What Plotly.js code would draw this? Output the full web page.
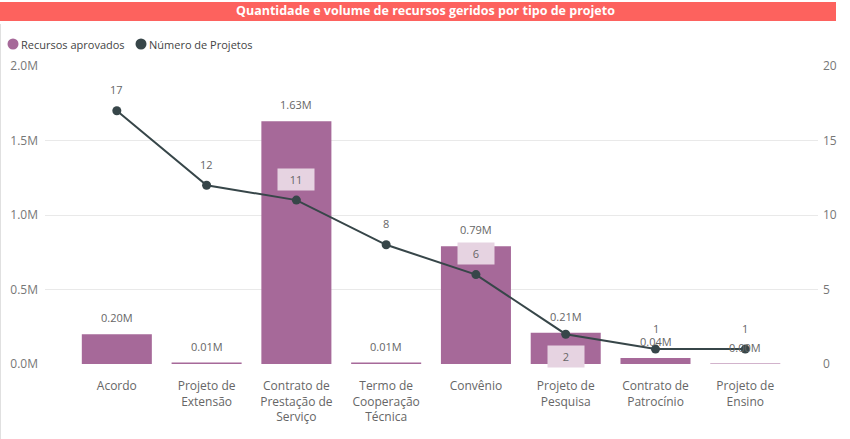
<!DOCTYPE html>
<html><head><meta charset="utf-8">
<script src="https://cdn.plot.ly/plotly-3.0.1.min.js"></script>
<style>html,body{margin:0;padding:0;background:#fff;}#chart{width:850px;height:439px;}</style>
</head><body><div id="chart"></div>
<script>
const categories = ["Acordo","Projeto de<br>Extensão","Contrato de<br>Prestação de<br>Serviço","Termo de<br>Cooperação<br>Técnica","Convênio","Projeto de<br>Pesquisa","Contrato de<br>Patrocínio","Projeto de<br>Ensino"];
const recursosM = [0.20, 0.01, 1.63, 0.01, 0.79, 0.21, 0.04, 0.003];
const numeroProjetos = [17, 12, 11, 8, 6, 2, 1, 1];
const leftTickVals = [0, 0.5, 1.0, 1.5, 2.0];
const leftTickText = ["0.0M","0.5M","1.0M","1.5M","2.0M"];
const rightTickVals = [0, 5, 10, 15, 20];
const seriesNames = ["Recursos aprovados", "Número de Projetos"];

const barColor = "#A66999";
const lineColor = "#374649";
const xs = categories.map((c, i) => i);
const labelFont = {family: "Open Sans, DejaVu Sans", size: 11, color: "#666"};

const traces = [
  {type: "bar", x: xs, y: recursosM, marker: {color: barColor}, width: 0.78,
   yaxis: "y", showlegend: false, hoverinfo: "none", name: seriesNames[0]},
  {type: "scatter", mode: "lines+markers", x: xs, y: numeroProjetos, yaxis: "y2",
   line: {color: lineColor, width: 2}, marker: {color: lineColor, size: 9},
   showlegend: false, hoverinfo: "none", name: seriesNames[1]}
];

const W = 773, H = 298; // plot area size in px
const px = v => v / W, py = v => v / H;

const annotations = [];
recursosM.forEach((v, i) => {
  annotations.push({x: i, y: v, xref: "x", yref: "y", text: v.toFixed(2) + "M",
    showarrow: false, yanchor: "bottom", yshift: 7, font: labelFont});
});
numeroProjetos.forEach((n, i) => {
  const yl = n / 10; // same scale on left axis
  const inside = yl < recursosM[i];
  const above = !inside || (yl + 0.17 < recursosM[i]);
  const a = {x: i, y: yl, xref: "x", yref: "y", text: String(n), showarrow: false,
    font: labelFont, yanchor: "middle", yshift: above ? 21 : -22};
  if (inside) { a.bgcolor = "#E6D3E1"; a.borderpad = 3; a.width = 30; }
  annotations.push(a);
});
// title
annotations.push({xref: "paper", yref: "paper", x: px(425 - 45), y: 1 + py(66 - 11), text: "<b>Quantidade e volume de recursos geridos por tipo de projeto</b>",
  showarrow: false, yanchor: "middle", xanchor: "center",
  font: {family: "Open Sans, DejaVu Sans", size: 12.5, color: "#fff"}});
// legend text
const legendX = [19, 147];
seriesNames.forEach((s, i) => {
  annotations.push({xref: "paper", yref: "paper", x: px(legendX[i] - 45), y: 1 + py(66 - 44),
    text: s, showarrow: false, xanchor: "left", yanchor: "middle",
    font: {family: "Open Sans, DejaVu Sans", size: 11, color: "#444"}});
});

const shapes = [
  {type: "rect", xref: "paper", yref: "paper", x0: px(0 - 45), x1: px(836 - 45),
   y0: 1 + py(66 - 21), y1: 1 + py(66 - 2), fillcolor: "#FD625E", line: {width: 0}, layer: "below"},
  {type: "line", xref: "paper", yref: "paper", x0: px(0.5 - 45), x1: px(0.5 - 45), y0: -75 / H, y1: 1 + py(66 - 24),
   line: {color: "#E0E0E0", width: 1}}
];
const legendCx = [13, 141];
const legendColors = [barColor, lineColor];
legendCx.forEach((cx, i) => {
  shapes.push({type: "circle", xref: "paper", yref: "paper", xsizemode: "pixel", ysizemode: "pixel",
    xanchor: px(cx - 45), yanchor: 1 + py(66 - 44), x0: -5.5, x1: 5.5, y0: -5.5, y1: 5.5,
    fillcolor: legendColors[i], line: {width: 0}});
});

const layout = {
  width: 850, height: 439,
  margin: {l: 45, r: 32, t: 66, b: 75},
  paper_bgcolor: "#fff", plot_bgcolor: "#fff",
  font: {family: "Open Sans, DejaVu Sans", color: "#666", size: 12},
  showlegend: false,
  xaxis: {tickvals: xs, ticktext: categories, range: [-0.8, 7.81], showgrid: false,
    zeroline: false, showline: false, ticks: "", tickfont: {size: 12, color: "#666"}, ticklabelstandoff: 13},
  yaxis: {range: [0, 2.0], tickvals: leftTickVals, ticktext: leftTickText, showgrid: true,
    gridcolor: "#E9E9E9", zeroline: false, tickfont: {size: 12, color: "#777"}, ticklabelstandoff: 6},
  yaxis2: {range: [0, 20], tickvals: rightTickVals, overlaying: "y", side: "right",
    showgrid: false, zeroline: false, tickfont: {size: 12, color: "#777"}, ticklabelstandoff: 4},
  shapes: shapes,
  annotations: annotations
};

Plotly.newPlot("chart", traces, layout, {staticPlot: true, displayModeBar: false});
</script></body></html>
